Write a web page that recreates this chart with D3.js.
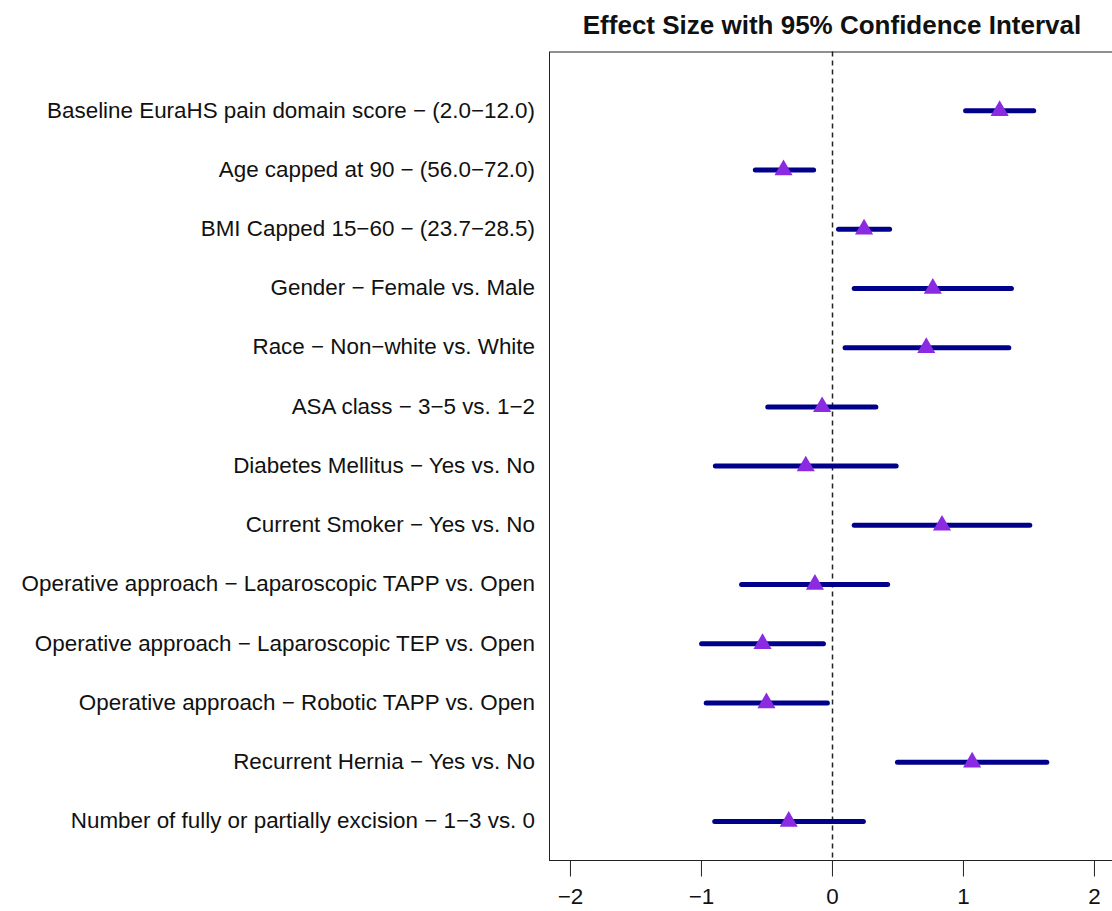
<!DOCTYPE html>
<html>
<head>
<meta charset="utf-8">
<script src="https://cdn.jsdelivr.net/npm/d3@7"></script>
<style>
  html, body { margin: 0; padding: 0; background: #fff; }
  svg { display: block; font-family: "Liberation Sans", Arial, sans-serif; }
</style>
</head>
<body>
<div id="chart"></div>
<script>
// Forest plot: effect size with 95% CI, one row per covariate (top to bottom)
const labels = [
    'Baseline EuraHS pain domain score \u2212 (2.0\u221212.0)',
    'Age capped at 90 \u2212 (56.0\u221272.0)',
    'BMI Capped 15\u221260 \u2212 (23.7\u221228.5)',
    'Gender \u2212 Female vs. Male',
    'Race \u2212 Non\u2212white vs. White',
    'ASA class \u2212 3\u22125 vs. 1\u22122',
    'Diabetes Mellitus \u2212 Yes vs. No',
    'Current Smoker \u2212 Yes vs. No',
    'Operative approach \u2212 Laparoscopic TAPP vs. Open',
    'Operative approach \u2212 Laparoscopic TEP vs. Open',
    'Operative approach \u2212 Robotic TAPP vs. Open',
    'Recurrent Hernia \u2212 Yes vs. No',
    'Number of fully or partially excision \u2212 1\u22123 vs. 0'
];
const estimates = [1.28, -0.37, 0.245, 0.77, 0.72, -0.075, -0.20, 0.84, -0.13, -0.53, -0.50, 1.07, -0.33];
const lowerCI   = [1.02, -0.585, 0.05, 0.17, 0.10, -0.49, -0.89, 0.17, -0.69, -0.995, -0.96, 0.50, -0.895];
const upperCI   = [1.54, -0.14, 0.44, 1.37, 1.35, 0.335, 0.49, 1.51, 0.425, -0.065, -0.035, 1.64, 0.24];
const xTicks = [-2, -1, 0, 1, 2];
const title = 'Effect Size with 95% Confidence Interval';

const width = 1112, height = 911;
const plot = { left: 549, top: 51.5, bottom: 860 };

const svg = d3.select('#chart').append('svg')
    .attr('width', width)
    .attr('height', height);

// R-style 4% extension of [-2, 2]
const x = d3.scaleLinear().domain([-2.16, 2.16]).range([plot.left, plot.left + 4.32 * 131]);
const y = d3.scaleLinear().domain([0, 13.65]).range([plot.top, plot.bottom]);

const rows = labels.map((name, i) => ({
    name, row: i + 1, est: estimates[i], lo: lowerCI[i], hi: upperCI[i]
}));

// plot frame (right edge falls outside the window)
svg.append('rect')
    .attr('x', plot.left + 0.5)
    .attr('y', plot.top + 0.5)
    .attr('width', x.range()[1] - plot.left)
    .attr('height', plot.bottom - plot.top)
    .attr('fill', 'none')
    .attr('stroke', '#222')
    .attr('stroke-width', 1);

// reference line at zero
svg.append('line')
    .attr('x1', Math.round(x(0)) + 0.5).attr('x2', Math.round(x(0)) + 0.5)
    .attr('y1', plot.top).attr('y2', plot.bottom)
    .attr('stroke', '#222')
    .attr('stroke-width', 1.5)
    .attr('stroke-dasharray', '5,4');

// CI segments
svg.append('g').selectAll('line')
    .data(rows)
    .join('line')
    .attr('x1', d => x(d.lo))
    .attr('x2', d => x(d.hi))
    .attr('y1', d => y(d.row))
    .attr('y2', d => y(d.row))
    .attr('stroke', '#00008B')
    .attr('stroke-width', 5)
    .attr('stroke-linecap', 'round');

// point estimates
const tri = d3.symbol().type(d3.symbolTriangle).size(142);
svg.append('g').selectAll('path')
    .data(rows)
    .join('path')
    .attr('d', tri)
    .attr('transform', d => `translate(${x(d.est)},${y(d.row)})`)
    .attr('fill', '#8A2BE2');

// row labels
svg.append('g').selectAll('text')
    .data(rows)
    .join('text')
    .attr('x', 535)
    .attr('y', d => y(d.row) - 1)
    .attr('dy', '0.35em')
    .attr('text-anchor', 'end')
    .attr('fill', '#111')
    .style('font-size', '22.4px')
    .text(d => d.name);

// x axis
const xAxis = d3.axisBottom(x)
    .tickValues(xTicks)
    .tickSize(16)
    .tickPadding(12)
    .tickFormat(d => d < 0 ? '\u2212' + Math.abs(d) : String(d));

const gx = svg.append('g')
    .attr('transform', `translate(0,${plot.bottom + 0.5})`)
    .call(xAxis);
gx.select('.domain').remove();
gx.selectAll('.tick line').attr('stroke', '#222');
gx.selectAll('.tick text')
    .attr('fill', '#111')
    .style('font-size', '22.4px')
    .style('font-family', '"Liberation Sans", Arial, sans-serif');

// title
svg.append('text')
    .attr('x', 832)
    .attr('y', 34)
    .attr('text-anchor', 'middle')
    .attr('fill', '#111')
    .style('font-size', '26px')
    .style('font-weight', 'bold')
    .text(title);
</script>
</body>
</html>
